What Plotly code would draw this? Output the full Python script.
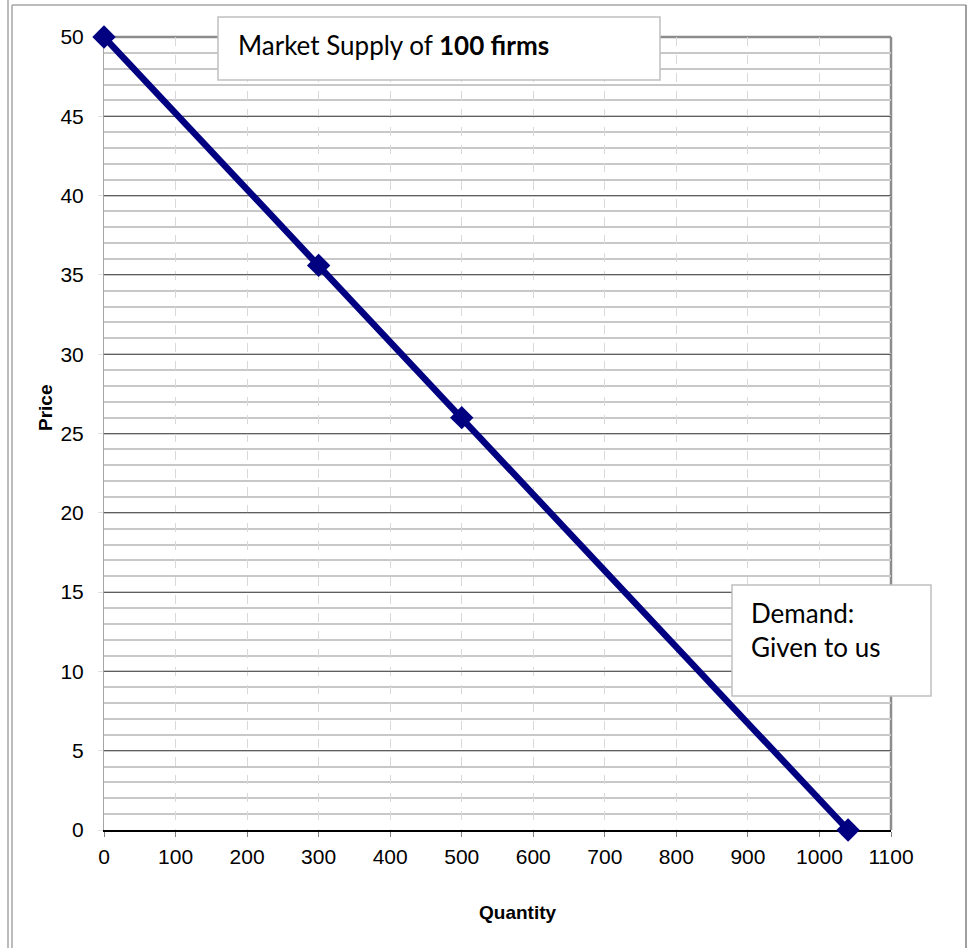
import plotly.graph_objects as go

# Demand schedule
quantity = [0, 300, 500, 1040]
price = [50, 35.6, 26, 0]

x_ticks = [0, 100, 200, 300, 400, 500, 600, 700, 800, 900, 1000, 1100]
y_ticks = [0, 5, 10, 15, 20, 25, 30, 35, 40, 45, 50]

W, H = 971, 948
L, R, T, B = 104, 80, 37, 118
PW, PH = W - L - R, H - T - B


def px(x):
    return (x - L) / PW


def py(y):
    return (H - B - y) / PH


fig = go.Figure()

fig.add_trace(go.Scatter(
    x=quantity, y=price, mode="lines+markers",
    line=dict(color="#000080", width=6.5),
    marker=dict(symbol="diamond", size=18, color="#000080", line=dict(width=0)),
    cliponaxis=False, showlegend=False, hoverinfo="x+y",
))

shapes = []
# outer frame
frame = "#a6a6a6"
shapes.append(dict(type="line", xref="paper", yref="paper", x0=px(8), x1=px(8), y0=py(0), y1=py(948), line=dict(color=frame, width=1.5)))
shapes.append(dict(type="line", xref="paper", yref="paper", x0=px(12), x1=px(12), y0=py(5), y1=py(948), line=dict(color=frame, width=1.5)))
shapes.append(dict(type="line", xref="paper", yref="paper", x0=px(12), x1=px(966), y0=py(5), y1=py(5), line=dict(color=frame, width=1.5)))
shapes.append(dict(type="line", xref="paper", yref="paper", x0=px(966), x1=px(966), y0=py(5), y1=py(948), line=dict(color="#808080", width=1.5)))
# plot area top and right border
shapes.append(dict(type="line", xref="paper", yref="paper", x0=0, x1=1, y0=1, y1=1, line=dict(color="#8c8c8c", width=2.5), layer="below"))
shapes.append(dict(type="line", xref="paper", yref="paper", x0=1, x1=1, y0=0, y1=1, line=dict(color="#8c8c8c", width=2.5), layer="below"))
# text boxes
box = dict(color="#c0c0c0", width=1.5)
shapes.append(dict(type="rect", xref="paper", yref="paper", x0=px(218), x1=px(660), y0=py(80), y1=py(17), line=box, fillcolor="white", layer="above"))
shapes.append(dict(type="rect", xref="paper", yref="paper", x0=px(732), x1=px(931), y0=py(696), y1=py(585), line=box, fillcolor="white", layer="above"))

box_font = dict(family="Lato, Open Sans, sans-serif", size=26, color="#000000")
title_font = dict(family="Liberation Sans, Arial, sans-serif", size=19, color="#000000")
annotations = [
    dict(xref="paper", yref="paper", x=px(236), y=py(45), xanchor="left", yanchor="middle",
         text="Market Supply of <b>100 firms</b>", showarrow=False, font=box_font),
    dict(xref="paper", yref="paper", x=px(749), y=py(613), xanchor="left", yanchor="middle",
         text="Demand:", showarrow=False, font=box_font),
    dict(xref="paper", yref="paper", x=px(749), y=py(647), xanchor="left", yanchor="middle",
         text="Given to us", showarrow=False, font=box_font),
    # axis titles
    dict(xref="paper", yref="paper", x=px(517), y=py(912), xanchor="center", yanchor="middle",
         text="<b>Quantity</b>", showarrow=False, font=title_font),
    dict(xref="paper", yref="paper", x=px(45), y=py(408), xanchor="center", yanchor="middle",
         text="<b>Price</b>", showarrow=False, font=title_font, textangle=-90),
]

tick_font = dict(family="Liberation Sans, Arial, sans-serif", size=21, color="#000000")

fig.update_layout(
    width=W, height=H,
    margin=dict(l=L, r=R, t=T, b=B, pad=0),
    paper_bgcolor="white", plot_bgcolor="white",
    shapes=shapes, annotations=annotations,
    xaxis=dict(
        range=[0, 1100], tickvals=x_ticks, ticktext=[str(v) for v in x_ticks],
        showgrid=True, gridcolor="#d9d9d9", griddash="dash", gridwidth=1,
        showline=True, linecolor="#000000", linewidth=2,
        ticks="outside", ticklen=5, tickcolor="#808080", tickwidth=1,
        tickfont=tick_font, ticklabelstandoff=2, zeroline=False,
        layer="below traces",
    ),
    yaxis=dict(
        range=[0, 50], tickvals=y_ticks, ticktext=[str(v) for v in y_ticks],
        showgrid=True, gridcolor="#5f5f5f", gridwidth=1,
        minor=dict(dtick=1, showgrid=True, gridcolor="#c8c8c8", gridwidth=1.5),
        showline=True, linecolor="#a6a6a6", linewidth=1,
        ticks="outside", ticklen=5, tickcolor="#e0e0e0", tickwidth=1,
        tickfont=tick_font, ticklabelstandoff=10, zeroline=False,
        layer="below traces",
    ),
)

fig.write_html("out.html")
